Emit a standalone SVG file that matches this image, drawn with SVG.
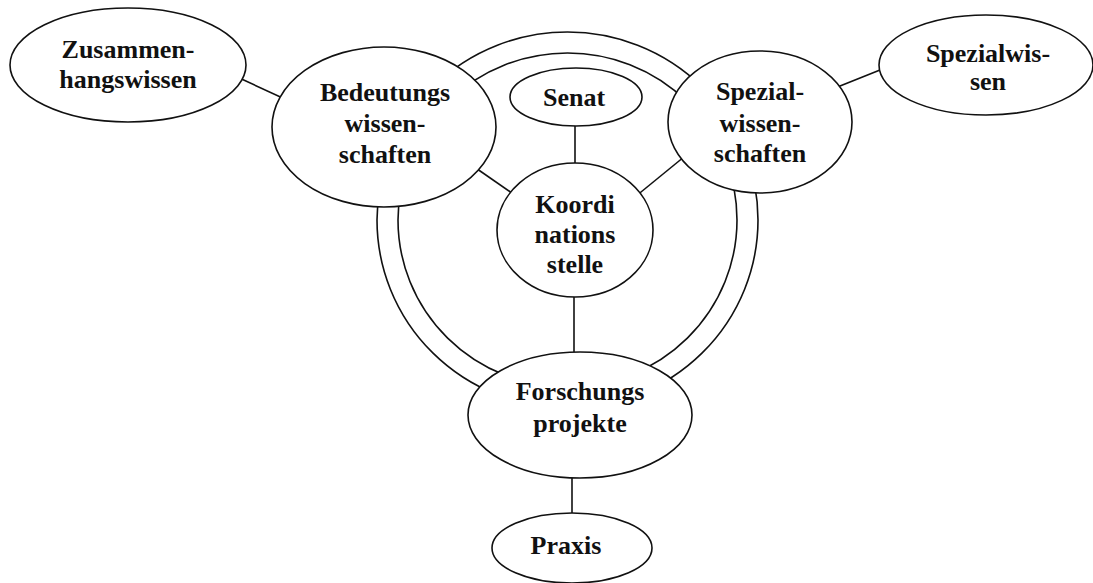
<svg xmlns="http://www.w3.org/2000/svg" width="1093" height="583" viewBox="0 0 1093 583">
<style>
.n{fill:#fff;stroke:#111;stroke-width:1.6}
.c{fill:none;stroke:#111;stroke-width:1.6}
.t{font-family:"Liberation Serif","Times New Roman",serif;font-weight:bold;font-size:26px;fill:#111;text-anchor:middle}
</style>
<rect width="1093" height="583" fill="#fff"/>
<g id="connectors">
<ellipse class="c" cx="567.5" cy="220" rx="190.5" ry="188"/>
<ellipse class="c" cx="567.5" cy="220" rx="169.5" ry="167"/>
<line class="c" x1="235" y1="76" x2="300" y2="106"/>
<line class="c" x1="470" y1="164" x2="522" y2="200"/>
<line class="c" x1="690" y1="152" x2="630" y2="201"/>
<line class="c" x1="830" y1="90" x2="890" y2="66"/>
<line class="c" x1="575" y1="120" x2="575" y2="170"/>
<line class="c" x1="574" y1="290" x2="574" y2="360"/>
<line class="c" x1="572" y1="470" x2="572" y2="520"/>
</g>
<g id="zusammenhangswissen">
<ellipse class="n" cx="128" cy="65" rx="118" ry="57"/>
<text class="t" x="128" y="58">Zusammen-</text>
<text class="t" x="128" y="88">hangswissen</text>
</g>
<g id="bedeutungswissenschaften">
<ellipse class="n" cx="384" cy="127" rx="112" ry="80"/>
<text class="t" x="385" y="101">Bedeutungs</text>
<text class="t" x="385" y="132">wissen-</text>
<text class="t" x="385" y="163">schaften</text>
</g>
<g id="senat">
<ellipse class="n" cx="576" cy="97" rx="66" ry="29"/>
<text class="t" x="574" y="106">Senat</text>
</g>
<g id="spezialwissenschaften">
<ellipse class="n" cx="760" cy="122" rx="92" ry="71"/>
<text class="t" x="760" y="100">Spezial-</text>
<text class="t" x="760" y="132">wissen-</text>
<text class="t" x="760" y="162">schaften</text>
</g>
<g id="spezialwissen">
<ellipse class="n" cx="986" cy="65" rx="107" ry="50"/>
<text class="t" x="988" y="62">Spezialwis-</text>
<text class="t" x="988" y="90">sen</text>
</g>
<g id="koordinationsstelle">
<ellipse class="n" cx="575" cy="230" rx="78" ry="67"/>
<text class="t" x="575" y="213">Koordi</text>
<text class="t" x="575" y="243">nations</text>
<text class="t" x="575" y="273">stelle</text>
</g>
<g id="forschungsprojekte">
<ellipse class="n" cx="580" cy="415" rx="112" ry="63"/>
<text class="t" x="580" y="400">Forschungs</text>
<text class="t" x="580" y="432">projekte</text>
</g>
<g id="praxis">
<ellipse class="n" cx="572" cy="548" rx="80" ry="35"/>
<text class="t" x="566" y="554">Praxis</text>
</g>
</svg>
